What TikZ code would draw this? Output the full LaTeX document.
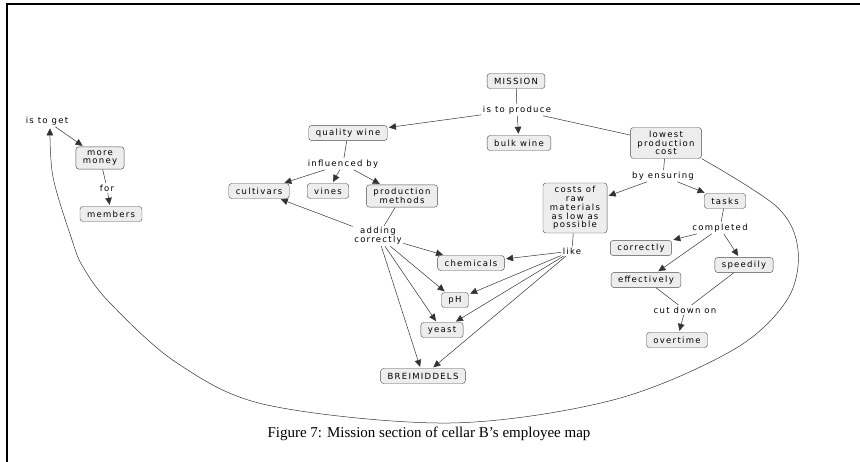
\documentclass[tikz,border=0pt]{standalone}
\usepackage{fontspec}
\setmainfont{Liberation Serif}
\newfontfamily\mapfont[LetterSpace=15]{DejaVu Sans}
\usetikzlibrary{arrows.meta}

\begin{document}
\begin{tikzpicture}[x=1pt, y=-1pt,
    concept/.style={draw=black!70, fill=black!7, rounded corners=3pt, align=center,
        inner xsep=7pt, inner ysep=3.5pt, minimum height=15pt,
        font=\mapfont\fontsize{8.5}{8.7}\selectfont},
    phrase/.style={inner sep=1.5pt, align=center, font=\mapfont\fontsize{8.5}{8.7}\selectfont},
    link/.style={draw=black!80, line width=0.5pt},
    arr/.style={link, -{Triangle[length=7pt,width=6.5pt]}, shorten >=1.5pt}]
    \useasboundingbox (0,0) rectangle (860,462);
    \draw[line width=2pt] (6.8,462) -- (6.8,4.3) -- (860,4.3);

    \node[concept] (mission) at (516,81) {MISSION};
    \node[phrase] (produce) at (517,110) {is to produce};
    \node[concept] (bulk) at (519,143) {bulk wine};
    \node[concept] (quality) at (348,133) {quality wine};
    \node[concept] (lowest) at (666,143) {lowest\\production\\cost};
    \node[phrase] (ensuring) at (663,176) {by ensuring};
    \node[concept] (costs) at (575,208) {costs of\\raw\\materials\\as low as\\possible};
    \node[concept] (tasks) at (725,201) {tasks};
    \node[phrase] (completed) at (720,228) {completed};
    \node[concept] (correctly) at (641,248) {correctly};
    \node[phrase] (like) at (572,251) {like};
    \node[concept] (speedily) at (744,265) {speedily};
    \node[concept] (effectively) at (646,280) {effectively};
    \node[phrase] (cutdown) at (685,310) {cut down on};
    \node[concept] (overtime) at (677,340) {overtime};

    \node[phrase] (influenced) at (343,164) {influenced by};
    \node[concept] (cultivars) at (259,191) {cultivars};
    \node[concept] (vines) at (328,191) {vines};
    \node[concept] (methods) at (402,196) {production\\methods};
    \node[phrase] (adding) at (378,236) {adding\\correctly};
    \node[concept] (chemicals) at (471,263) {chemicals};
    \node[concept] (ph) at (455,300) {pH};
    \node[concept] (yeast) at (442,330) {yeast};
    \node[concept] (breimiddels) at (423,376) {BREIMIDDELS};

    \node[phrase] (isget) at (47,121) {is to get};
    \node[concept] (money) at (100,158) {more\\money};
    \node[phrase] (for) at (107,188) {for};
    \node[concept] (members) at (111,214) {members};

    \node[font=\fontsize{15}{18}\selectfont] (caption) at (429,434) {Figure 7: Mission section of cellar B’s employee map};

    \draw[link] (mission) -- (produce);
    \draw[arr] (produce) -- (quality);
    \draw[arr] (produce) -- (bulk);
    \draw[link] (produce) -- (lowest);
    \draw[link] (lowest) -- (ensuring);
    \draw[arr] (ensuring) -- (costs);
    \draw[arr] (ensuring) -- (tasks);
    \draw[link] (tasks) -- (completed);
    \draw[arr] (completed) -- (correctly);
    \draw[arr] (completed) -- (effectively);
    \draw[arr] (completed) -- (speedily);
    \draw[link] (effectively) -- (cutdown);
    \draw[link] (speedily) -- (cutdown);
    \draw[arr] (cutdown) -- (overtime);
    \draw[link] (costs) -- (like);
    \draw[arr] (like) -- (chemicals);
    \draw[arr] (like) -- (ph);
    \draw[arr] (like) -- (yeast);
    \draw[arr] (like) -- (breimiddels);

    \draw[link] (quality) -- (influenced);
    \draw[arr] (influenced) -- (cultivars);
    \draw[arr] (influenced) -- (vines);
    \draw[arr] (influenced) -- (methods);
    \draw[link] (methods) -- (adding);
    \draw[arr] (adding) -- (cultivars);
    \draw[arr] (adding) -- (chemicals);
    \draw[arr] (adding) -- (ph);
    \draw[arr] (adding) -- (yeast);
    \draw[arr] (adding) -- (breimiddels);

    \draw[arr] (isget) -- (money);
    \draw[link] (money) -- (for);
    \draw[arr] (for) -- (members);

    \draw[arr] plot[smooth, tension=0.55] coordinates {(lowest.south east) (777,207) (798,250) (787,300) (733,350) (613,400) (450,423) (267,405) (177,363) (110,303) (83,267) (72,240) (53,177) ([xshift=3pt]isget.south)};
\end{tikzpicture}
\end{document}
